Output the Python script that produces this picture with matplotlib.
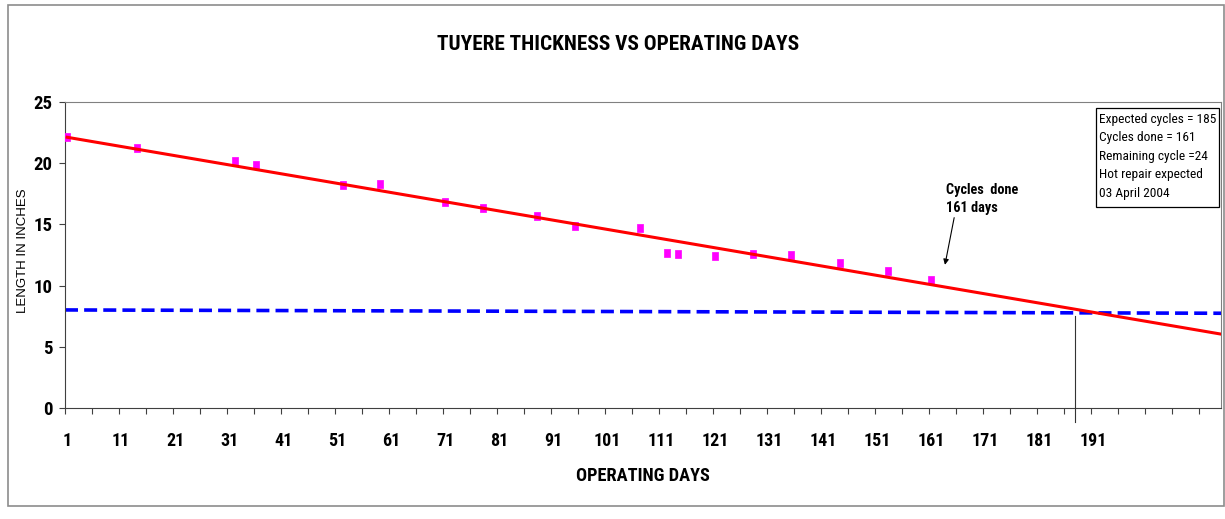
#!/usr/bin/env python3
"""
Tuyere thickness vs operating days chart.
"""
import matplotlib
matplotlib.use("Agg")
import matplotlib.pyplot as plt
from matplotlib import font_manager
from matplotlib.font_manager import FontProperties
from matplotlib.patches import Rectangle
from matplotlib.path import Path

# data
days = [1, 14, 32, 36, 52, 59, 71, 78, 88, 95, 107, 112, 114, 121, 128, 135, 144, 153, 161]
thickness = [22.15, 21.2, 20.15, 19.8, 18.2, 18.25, 16.85, 16.3, 15.7, 14.9, 14.7,
             12.65, 12.6, 12.45, 12.6, 12.5, 11.85, 11.2, 10.45]
trend_days = [1, 214.6]
trend_vals = [22.1, 6.05]
limit_days = [0.6, 214.6]
limit_vals = [8.02, 7.75]
repair_day = 187.6
tick_days = list(range(1, 192, 10))
box_lines = ["Expected cycles = 185", "Cycles done = 161", "Remaining cycle =24",
             "Hot repair expected", "03 April 2004"]


def find_narrow(bold):
    # look for a narrow / condensed sans face among installed fonts
    best = None
    for pref in ("Liberation", "Roboto", "Open", "DejaVu", ""):
        for f in font_manager.fontManager.ttflist:
            fn = f.fname.lower()
            if not ("narrow" in fn or "condensed" in fn):
                continue
            if "mono" in fn or "serif" in fn.replace("sans", "") or f.style != "normal":
                continue
            if pref and pref.lower() not in fn:
                continue
            w = f.weight if isinstance(f.weight, int) else 400
            if bold and w < 600 or (not bold and w >= 600):
                continue
            best = f.fname
            break
        if best:
            break
    return best


NARROW_REG = find_narrow(False)
NARROW_BOLD = find_narrow(True)


def nfont(size, bold=False):
    path = NARROW_BOLD if bold else NARROW_REG
    if path:
        return FontProperties(fname=path, size=size)
    return FontProperties(family=["Liberation Sans", "DejaVu Sans"], size=size,
                          weight="bold" if bold else "normal")


plt.rcParams["font.family"] = ["Liberation Sans", "DejaVu Sans"]

W, H = 1225, 519


def fx(px):
    return px / W


def fy(py):
    return 1 - py / H


fig = plt.figure(figsize=(W / 100, H / 100), dpi=100)
fig.patch.set_facecolor("white")

# outer chart frame
fig.add_artist(Rectangle((fx(8), fy(506)), fx(1224) - fx(8), fy(5) - fy(506),
                         transform=fig.transFigure, fill=False, ec="#8c8c8c", lw=1.2))

ax = fig.add_axes([fx(65), fy(408.3), fx(1221) - fx(65), fy(101.7) - fy(408.3)])

# magenta tall-square markers
rect = Path([(-0.7, -1), (0.7, -1), (0.7, 1), (-0.7, 1), (-0.7, -1)],
            [Path.MOVETO, Path.LINETO, Path.LINETO, Path.LINETO, Path.CLOSEPOLY])
ax.plot(days, thickness, ls="none", marker=rect, ms=6, color="#ff00ff", mec="#ff00ff",
        mew=0.5, zorder=3)
ax.plot(trend_days, trend_vals, color="#ff0000", lw=2.2, zorder=4)
lim, = ax.plot(limit_days, limit_vals, color="#0000ff", lw=2.6, zorder=2)
lim.set_dashes((3.6, 1.7))
ax.plot([repair_day, repair_day], [-1.1, 7.5], color="#333333", lw=0.8, clip_on=False, zorder=5)

ax.set_xlim(0.6, 214.6)
ax.set_ylim(0, 25)
ax.set_yticks(range(0, 26, 5))
ax.set_xticks(tick_days)
ax.set_xticks([0.6 + 5 * k for k in range(43)], minor=True)
ax.tick_params(axis="x", which="major", length=0, pad=17)
ax.tick_params(axis="x", which="minor", length=4, width=0.8, color="#404040")
ax.tick_params(axis="y", length=4, width=0.8, color="#404040", pad=5)
for lab in ax.get_xticklabels():
    lab.set_fontproperties(nfont(13, bold=True))
for lab in ax.get_yticklabels():
    lab.set_fontproperties(nfont(13.5, bold=True))

for s in ("left", "bottom"):
    ax.spines[s].set_color("#404040")
for s in ("top", "right"):
    ax.spines[s].set_color("#808080")

fig.text(fx(618), fy(45), "TUYERE THICKNESS VS OPERATING DAYS", ha="center", va="center",
         fontproperties=nfont(15.3, bold=True))
fig.text(fx(643), fy(476), "OPERATING DAYS", ha="center", va="center",
         fontproperties=nfont(13.2, bold=True))
fig.text(fx(23), fy(251), "LENGTH IN INCHES", ha="center", va="center", rotation=90,
         fontsize=9.5, family=["Liberation Sans", "DejaVu Sans"])

ax.annotate("Cycles  done\n161 days", xy=(163.5, 11.7), xytext=(163.7, 17.07),
            ha="left", va="center", fontproperties=nfont(10.3, bold=True), linespacing=1.35,
            arrowprops=dict(arrowstyle="-|>", lw=0.8, color="black", mutation_scale=8,
                            shrinkA=0, shrinkB=0, relpos=(0.12, 0)))

# info box
fig.add_artist(Rectangle((fx(1095.7), fy(206.7)), fx(1219) - fx(1095.7), fy(108) - fy(206.7),
                         transform=fig.transFigure, fill=True, fc="white", ec="black", lw=0.9,
                         zorder=6))
for i, line in enumerate(box_lines):
    fig.text(fx(1099), fy(119 + 18.5 * i), line, ha="left", va="center",
             fontproperties=nfont(9.6), zorder=7)

fig.savefig("out.png", dpi=100)
